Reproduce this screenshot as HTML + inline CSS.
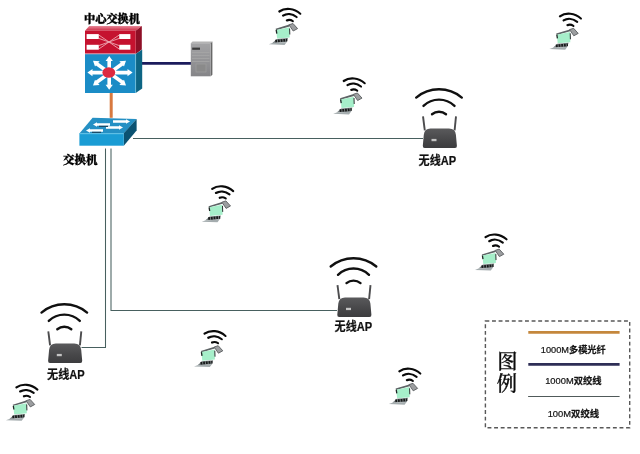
<!DOCTYPE html>
<html><head><meta charset="utf-8"><title>网络拓扑图</title>
<style>
html,body{margin:0;padding:0;background:#fff;}
body{width:640px;height:454px;overflow:hidden;}
svg{display:block;will-change:transform;}
.t1{font-family:"Liberation Serif","Noto Serif CJK SC",serif;font-weight:900;font-size:11.5px;fill:#000;stroke:#000;stroke-width:0.35px;}
.t2{font-family:"Liberation Sans","Noto Sans CJK SC",sans-serif;font-weight:700;font-size:12px;fill:#111;stroke:#111;stroke-width:0.2px;}
.t3{font-family:"Liberation Sans","Noto Sans CJK SC",sans-serif;font-size:9.3px;fill:#141414;stroke:#141414;stroke-width:0.22px;}
.t4{font-family:"Liberation Serif","Noto Serif CJK SC",serif;font-size:20.3px;font-weight:500;fill:#0c0c0c;stroke:#0c0c0c;stroke-width:0.3px;}
</style></head><body>
<svg width="640" height="454" viewBox="0 0 640 454">
<defs>
<linearGradient id="ag" x1="0" y1="0" x2="0" y2="1"><stop offset="0" stop-color="#5a5a5c"/><stop offset="0.55" stop-color="#48484a"/><stop offset="1" stop-color="#3c3c3e"/></linearGradient>
<linearGradient id="rg" x1="0" y1="0" x2="0" y2="1"><stop offset="0" stop-color="#e88898"/><stop offset="1" stop-color="#cc2c44"/></linearGradient>
<linearGradient id="sg" x1="0" y1="0" x2="0" y2="1"><stop offset="0" stop-color="#a4a4a6"/><stop offset="1" stop-color="#858588"/></linearGradient>
<g id="lap">
  <g transform="skewY(6)" fill="none" stroke="#0a0a0a" stroke-width="2.15" stroke-linecap="round">
    <path d="M-10.5,4.6 A17,17 0 0 1 10.5,4.6"/>
    <path d="M-6.8,8.3 A11.9,11.9 0 0 1 6.8,8.3"/>
    <path d="M-3,12.7 A6.1,6.1 0 0 1 3,12.7"/>
  </g>
  <polygon points="-14.2,20.8 -0.6,16.6 -0.2,18.4 -13.6,22.2" fill="#5e6466"/>
  <polygon points="-0.8,16.8 3.2,15.5 7.8,20.6 3.4,23" fill="#9c9ea0" stroke="#5a5e60" stroke-width="0.9"/>
  <polygon points="-13.6,21.9 -0.3,19.3 -0.1,29.4 -12.7,30.5" fill="#a6efca"/>
  <path d="M-13.6,21.9 L-13,25.6" stroke="#1e2424" stroke-width="1.3"/>
  <path d="M-0.2,20.5 L0,26.5" stroke="#2a3030" stroke-width="1"/>
  <polygon points="-13,31 -1.8,30 -3.2,34.2 -17.5,35" fill="#7a8284"/>
  <path d="M-14.5,33.1 L-2.5,32" stroke="#181a1a" stroke-width="2.6" stroke-dasharray="1.8 0.9"/>
  <polygon points="-17.5,35 -3.2,34.2 -5.2,36.9 -21,36.3" fill="#a4acae"/>
</g>
<g id="ap">
  <path d="M-22.8,9.3 A35.5,35.5 0 0 1 22.8,9.3" fill="none" stroke="#101010" stroke-width="2.4" stroke-linecap="round"/>
  <path d="M-15.5,17.6 A22.2,22.2 0 0 1 15.5,17.6" fill="none" stroke="#101010" stroke-width="2.4" stroke-linecap="round"/>
  <path d="M-7,25.9 A11.05,11.05 0 0 1 7,25.9" fill="none" stroke="#101010" stroke-width="2.4" stroke-linecap="round"/>
  <path d="M-16,28 L-14.2,42" stroke="#4c4c4e" stroke-width="1.9"/>
  <path d="M17,28 L15.6,42" stroke="#4c4c4e" stroke-width="1.9"/>
  <path d="M-14.3,59.7 Q-16.4,59.7 -16.2,57.5 L-15.2,46.4 Q-14.5,40.2 -8.5,40.2 L10,40.2 Q16.3,40.2 16.9,46.4 L17.9,57.5 Q18.1,59.7 16,59.7 Z" fill="url(#ag)"/>
  <rect x="-7.5" y="50.6" width="5" height="2.3" fill="#c4c4c4"/>
</g>
</defs>
<rect width="640" height="454" fill="#fff"/>

<!-- links -->
<g fill="none" stroke="#48605f" stroke-width="1.05">
<path d="M133,138.5 H423"/>
<path d="M111,148.5 V310.5 H337"/>
<path d="M105.5,148.5 V347.5 H81.5"/>
</g>
<path d="M111.2,93 V117.8" stroke="#d8793f" stroke-width="3"/>
<path d="M141.5,63.3 H191" stroke="#1c1c5c" stroke-width="2.7"/>

<!-- core switch -->
<text class="t1" x="84" y="23" textLength="56" lengthAdjust="spacingAndGlyphs">中心交换机</text>
<g>
  <polygon points="85,30.8 89.2,26 141.8,26 135.7,30.8" fill="url(#rg)"/>
  <polygon points="135.7,30.8 141.8,26 141.8,49.5 135.7,53.9" fill="#8e0f26"/>
  <rect x="85" y="30.8" width="50.7" height="23.1" fill="#c5122f"/>
  <rect x="86.6" y="34.1" width="12.2" height="4.9" fill="#fff"/>
  <rect x="119.2" y="34.1" width="11.2" height="4.9" fill="#fff"/>
  <rect x="86.6" y="44.8" width="12.2" height="4.9" fill="#fff"/>
  <rect x="119.2" y="44.8" width="11.2" height="4.9" fill="#fff"/>
  <path d="M98.8,35 L119.2,49 M98.8,49 L119.2,35 M98.8,38.4 L119.2,45.6 M98.8,45.6 L119.2,38.4" stroke="#eea8b2" stroke-width="0.9" fill="none"/>
  <polygon points="135.7,53.9 142.2,49.5 142.2,88.6 135.7,93" fill="#0d6584"/>
  <rect x="85" y="53.9" width="50.7" height="39.1" fill="#1b8cc6"/>
  <path d="M85,53.8 H135.6" stroke="#f0b8c4" stroke-width="0.8"/>
  <path d="M135.6,54 V93" stroke="#7cc8e0" stroke-width="0.7"/>
  <g stroke="#fff" stroke-width="3.6" fill="#fff">
    <path d="M91,72.6 H129 M109.2,59.5 V86.5 M96,63.2 L123,82.8 M123,63.2 L96,82.8" fill="none"/>
  </g>
  <g fill="#fff">
    <polygon points="87.4,72.6 92.5,69 92.5,76.2"/>
    <polygon points="132.6,72.6 127.5,69 127.5,76.2"/>
    <polygon points="109.2,56 105.6,61 112.8,61"/>
    <polygon points="109.2,89.8 105.6,84.8 112.8,84.8"/>
    <polygon points="93,60.8 99.6,61.2 95,66.4"/>
    <polygon points="126,60.8 119.4,61.2 124,66.4"/>
    <polygon points="93,85.4 99.6,85 95,79.8"/>
    <polygon points="126,85.4 119.4,85 124,79.8"/>
  </g>
  <ellipse cx="108.8" cy="72.5" rx="6.4" ry="5.3" fill="#dc2a40"/>
</g>

<!-- server -->
<g>
  <polygon points="190.8,43.2 192.5,41.5 212.5,41.5 210.7,43.2" fill="#b4b4b4"/>
  <polygon points="210.7,43.2 212.4,41.5 212.4,74.8 210.7,76.3" fill="#686868"/>
  <rect x="190.8" y="43.2" width="19.9" height="33.1" fill="url(#sg)"/>
  <rect x="192.2" y="47.6" width="7.8" height="2.2" fill="#3a3a3a"/>
  <path d="M192,52.5 H209.5 M192,55.5 H209.5 M192,58.5 H209.5 M192,61.5 H209.5" stroke="#a6a6a6" stroke-width="0.8"/>
  <rect x="196" y="64" width="10" height="8" fill="#8a8a8a" stroke="#a0a0a0" stroke-width="0.6"/>
</g>

<!-- access switch -->
<g>
  <polygon points="79.4,133.5 92.6,117.8 136.6,119 123.8,133.5" fill="#2590c4"/>
  <polygon points="123.8,133.3 136.6,119 136.6,130.4 123.8,145.7" fill="#0b5272"/>
  <rect x="79.4" y="133.3" width="44.4" height="12.4" fill="#1a9cd4"/>
  <path d="M79.4,133.7 H123.8" stroke="#6cc8ea" stroke-width="0.9"/>
  <g stroke="#fff" stroke-width="2.5" fill="none">
    <path d="M113,121.5 H127 M96,124.5 H110 M106,127.5 H120 M89,130.5 H103"/>
  </g>
  <g fill="#fff">
    <polygon points="130,121.5 126,119.3 126,123.7"/>
    <polygon points="93,124.5 97,122.3 97,126.7"/>
    <polygon points="123,127.5 119,125.3 119,129.7"/>
    <polygon points="86,130.5 90,128.3 90,132.7"/>
  </g>
  <path d="M99,126.3 H108 M92,132.3 H101" stroke="#1c4a66" stroke-width="1.2"/>
</g>
<text class="t1" x="62.9" y="163.8" textLength="34.5" lengthAdjust="spacingAndGlyphs" style="font-size:11.2px">交换机</text>

<!-- APs -->
<use href="#ap" x="439.0" y="88.3"/><text class="t2" x="437.4" y="164.8" text-anchor="middle" textLength="37.6" lengthAdjust="spacingAndGlyphs">无线AP</text>
<use href="#ap" x="353.5" y="257.2"/><text class="t2" x="353.4" y="331.2" text-anchor="middle" textLength="37.6" lengthAdjust="spacingAndGlyphs">无线AP</text>
<use href="#ap" x="64.3" y="303.3"/><text class="t2" x="65.9" y="378.9" text-anchor="middle" textLength="37.6" lengthAdjust="spacingAndGlyphs">无线AP</text>

<!-- laptops -->
<use href="#lap" x="289.8" y="8.0"/>
<use href="#lap" x="570.4" y="12.8"/>
<use href="#lap" x="354.2" y="77.5"/>
<use href="#lap" x="222.7" y="185.4"/>
<use href="#lap" x="496.0" y="233.6"/>
<use href="#lap" x="215.0" y="330.2"/>
<use href="#lap" x="409.8" y="367.8"/>
<use href="#lap" x="26.9" y="383.9"/>

<!-- legend -->
<rect x="485.4" y="321" width="144.3" height="106.8" fill="none" stroke="#585858" stroke-width="1.4" stroke-dasharray="3.9 2.7"/>
<path d="M528.3,332.45 H619.6" stroke="#c4873c" stroke-width="2.8"/>
<path d="M528.3,364.3 H619.6" stroke="#2e2e56" stroke-width="2.8"/>
<path d="M528.1,396.5 H619.6" stroke="#505a5a" stroke-width="1.1"/>
<text class="t3" x="573.3" y="352.5" text-anchor="middle" textLength="65" lengthAdjust="spacingAndGlyphs">1000M<tspan font-weight="700">多模光纤</tspan></text>
<text class="t3" x="573.4" y="384.3" text-anchor="middle" textLength="56.5" lengthAdjust="spacingAndGlyphs">1000M<tspan font-weight="700">双绞线</tspan></text>
<text class="t3" x="573.4" y="417.2" text-anchor="middle" textLength="51.5" lengthAdjust="spacingAndGlyphs">100M<tspan font-weight="700">双绞线</tspan></text>
<text class="t4" x="497.2" y="369.4">图</text>
<text class="t4" x="496.8" y="391.3">例</text>
</svg>
</body></html>
